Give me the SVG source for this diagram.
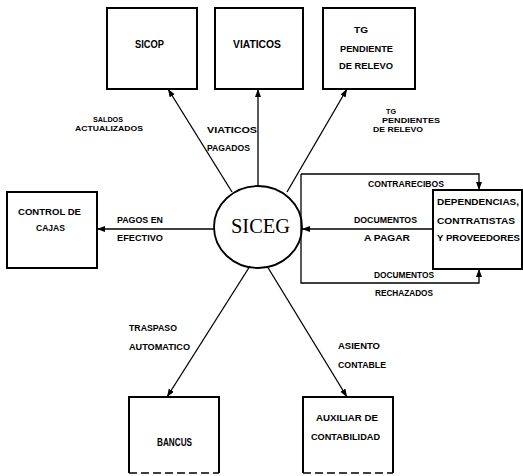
<svg xmlns="http://www.w3.org/2000/svg" width="523" height="476" viewBox="0 0 523 476">
<style>
.box{fill:none;stroke:#000;stroke-width:2}
.bb{fill:none;stroke:#000;stroke-width:1.5;stroke-dasharray:8 4}
.ln{fill:none;stroke:#000;stroke-width:1.3}
.t{font-family:"Liberation Sans",Arial,sans-serif;font-weight:bold;font-size:9px;fill:#000}
.s{font-family:"Liberation Sans",Arial,sans-serif;font-weight:bold;font-size:7.5px;fill:#000}
.b{font-family:"Liberation Sans",Arial,sans-serif;font-weight:bold;font-size:10px;fill:#000}
.c{font-family:"Liberation Serif","Times New Roman",serif;font-size:20px;fill:#000}
</style>
<defs>
<marker id="ah" markerUnits="userSpaceOnUse" markerWidth="9" markerHeight="7" refX="8" refY="3" orient="auto">
<path d="M0,0 L8,3 L0,6 z" fill="#000"/>
</marker>
</defs>
<rect width="523" height="476" fill="#fff"/>
<g id="sicop"><rect class="box" x="107" y="8" width="90" height="81"/><text class="b" x="135" y="48" textLength="29" lengthAdjust="spacingAndGlyphs">SICOP</text></g>
<g id="viaticos"><rect class="box" x="215" y="8" width="88" height="81"/><text class="b" x="233" y="48" textLength="48" lengthAdjust="spacingAndGlyphs">VIATICOS</text></g>
<g id="tg"><rect class="box" x="323" y="8" width="92" height="81"/>
<text class="t" x="354" y="33" textLength="14" lengthAdjust="spacingAndGlyphs">TG</text>
<text class="t" x="340" y="52" textLength="53" lengthAdjust="spacingAndGlyphs">PENDIENTE</text>
<text class="t" x="339" y="69" textLength="54" lengthAdjust="spacingAndGlyphs">DE RELEVO</text></g>
<g id="cajas"><rect class="box" x="7" y="192" width="90" height="76"/>
<text class="t" x="18" y="215" textLength="63" lengthAdjust="spacingAndGlyphs">CONTROL DE</text>
<text class="t" x="36" y="231" textLength="29" lengthAdjust="spacingAndGlyphs">CAJAS</text></g>
<g id="siceg"><ellipse cx="258" cy="227" rx="44" ry="41" fill="none" stroke="#000" stroke-width="1.8"/>
<text class="c" x="231" y="233" textLength="59" lengthAdjust="spacingAndGlyphs">SICEG</text></g>
<g id="dependencias"><rect class="box" x="433" y="190" width="89" height="79"/>
<text class="t" x="437" y="205" textLength="82" lengthAdjust="spacingAndGlyphs">DEPENDENCIAS,</text>
<text class="t" x="437" y="224" textLength="78" lengthAdjust="spacingAndGlyphs">CONTRATISTAS</text>
<text class="t" x="437" y="241" textLength="83" lengthAdjust="spacingAndGlyphs">Y PROVEEDORES</text></g>
<g id="bancus"><path class="box" d="M129,473 V397 H219 V473"/><path class="bb" d="M129,473 H219"/>
<text class="b" x="157" y="446" textLength="35" lengthAdjust="spacingAndGlyphs">BANCUS</text></g>
<g id="auxiliar"><path class="box" d="M303,473 V397 H393 V473"/><path class="bb" d="M303,473 H393"/>
<text class="t" x="316" y="421" textLength="62" lengthAdjust="spacingAndGlyphs">AUXILIAR DE</text>
<text class="t" x="311" y="440" textLength="69" lengthAdjust="spacingAndGlyphs">CONTABILIDAD</text></g>
<g id="connectors">
<line class="ln" x1="232" y1="192" x2="168" y2="89" marker-end="url(#ah)"/>
<line class="ln" x1="258" y1="186" x2="258" y2="89" marker-end="url(#ah)"/>
<line class="ln" x1="287" y1="192" x2="347" y2="89" marker-end="url(#ah)"/>
<line class="ln" x1="214" y1="229" x2="97" y2="229" marker-end="url(#ah)"/>
<line class="ln" x1="433" y1="229" x2="302" y2="229" marker-end="url(#ah)"/>
<path class="ln" d="M301,174 H479 V190" marker-end="url(#ah)"/>
<path class="ln" d="M301,174 V283 H479 V269" marker-end="url(#ah)"/>
<line class="ln" x1="250" y1="266" x2="167" y2="397" marker-end="url(#ah)"/>
<line class="ln" x1="267" y1="266" x2="347" y2="397" marker-end="url(#ah)"/>
</g>
<g id="labels">
<text class="s" x="93" y="122" textLength="30" lengthAdjust="spacingAndGlyphs">SALDOS</text>
<text class="s" x="75" y="131" textLength="68" lengthAdjust="spacingAndGlyphs">ACTUALIZADOS</text>
<text class="t" x="207" y="133" textLength="50" lengthAdjust="spacingAndGlyphs">VIATICOS</text>
<text class="t" x="207" y="151" textLength="43" lengthAdjust="spacingAndGlyphs">PAGADOS</text>
<text class="s" x="386" y="114" textLength="10" lengthAdjust="spacingAndGlyphs">TG</text>
<text class="s" x="382" y="123" textLength="58" lengthAdjust="spacingAndGlyphs">PENDIENTES</text>
<text class="s" x="373" y="132" textLength="50" lengthAdjust="spacingAndGlyphs">DE RELEVO</text>
<text class="t" x="117" y="223" textLength="46" lengthAdjust="spacingAndGlyphs">PAGOS EN</text>
<text class="t" x="117" y="241" textLength="46" lengthAdjust="spacingAndGlyphs">EFECTIVO</text>
<text class="t" x="368" y="187" textLength="76" lengthAdjust="spacingAndGlyphs">CONTRARECIBOS</text>
<text class="t" x="354" y="223" textLength="63" lengthAdjust="spacingAndGlyphs">DOCUMENTOS</text>
<text class="t" x="364" y="241" textLength="46" lengthAdjust="spacingAndGlyphs">A PAGAR</text>
<text class="t" x="374" y="278" textLength="60" lengthAdjust="spacingAndGlyphs">DOCUMENTOS</text>
<text class="t" x="375" y="296" textLength="58" lengthAdjust="spacingAndGlyphs">RECHAZADOS</text>
<text class="t" x="129" y="331" textLength="48" lengthAdjust="spacingAndGlyphs">TRASPASO</text>
<text class="t" x="129" y="350" textLength="61" lengthAdjust="spacingAndGlyphs">AUTOMATICO</text>
<text class="t" x="338" y="349" textLength="42" lengthAdjust="spacingAndGlyphs">ASIENTO</text>
<text class="t" x="338" y="368" textLength="48" lengthAdjust="spacingAndGlyphs">CONTABLE</text>
</g>
</svg>
